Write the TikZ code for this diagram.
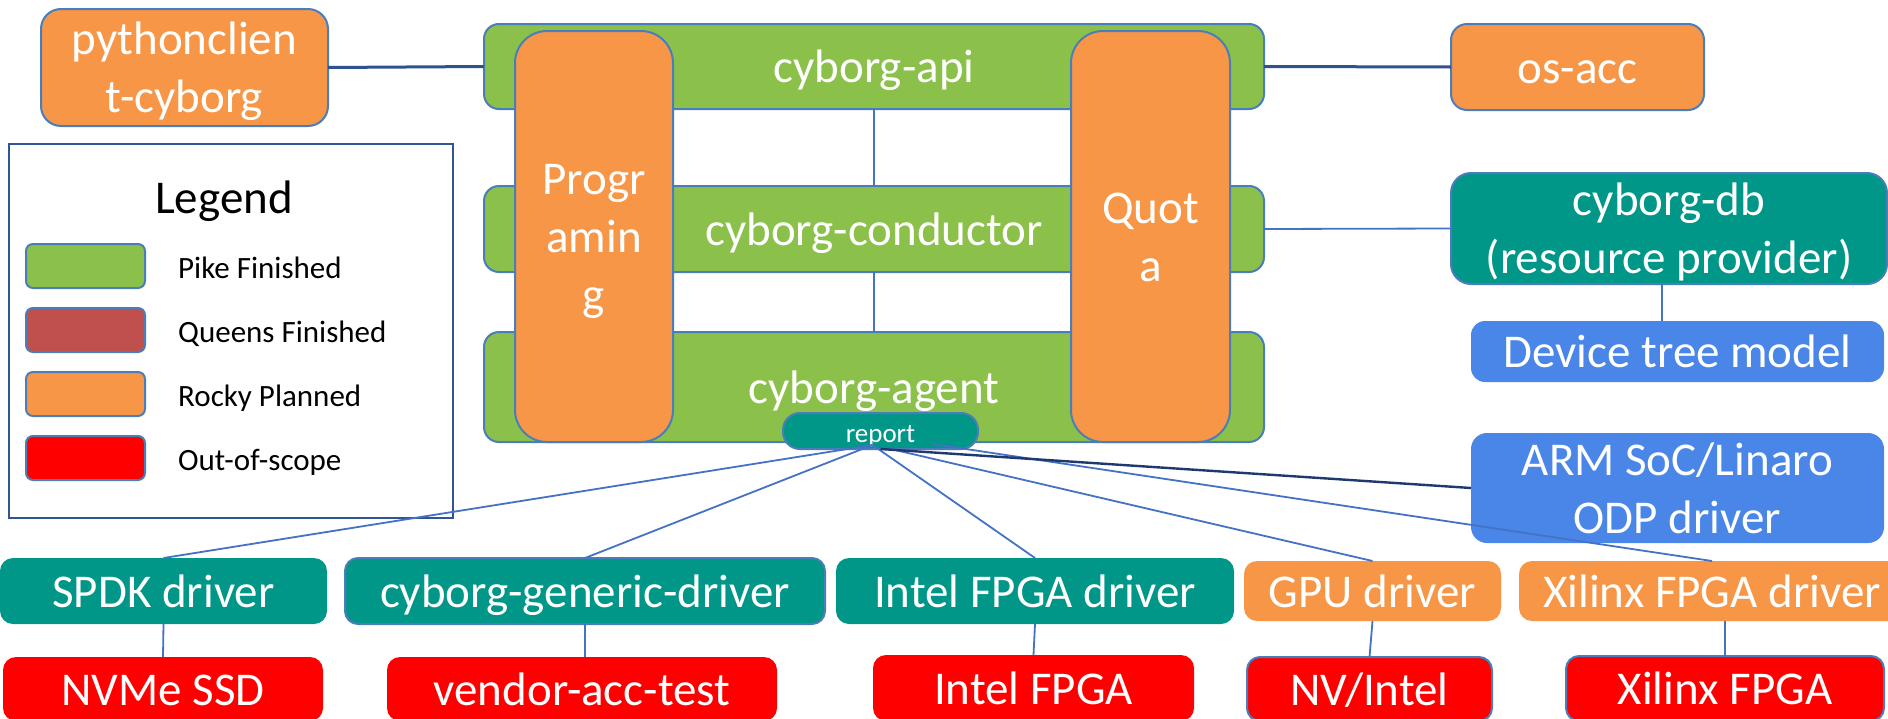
\documentclass[tikz,border=0pt]{standalone}
\usepackage{fontspec}
\setmainfont{Carlito}
\definecolor{cgreen}{RGB}{139,193,74}
\definecolor{corange}{RGB}{247,150,70}
\definecolor{cteal}{RGB}{0,150,136}
\definecolor{cblue}{RGB}{74,134,232}
\definecolor{cred}{RGB}{255,0,0}
\definecolor{cqueen}{RGB}{192,80,77}
\definecolor{cbord}{RGB}{74,126,187}
\definecolor{clink}{RGB}{68,114,196}
\definecolor{cdark}{RGB}{47,82,143}
\definecolor{cnavy}{RGB}{31,56,110}
\definecolor{clegend}{RGB}{47,85,151}
\newcommand\bigfont{\fontsize{47}{58}\selectfont}
\newcommand\legfont{\fontsize{31}{37}\selectfont}
\newcommand\repfont{\fontsize{27}{32}\selectfont}
\newcommand\hstrut{\rule{0pt}{42pt}}
\newcommand\dstrut{\rule[-10pt]{0pt}{10pt}}
\tikzset{
  bx/.style={anchor=north west, inner sep=0pt, outer sep=0pt, text=white,
    font=\bigfont, align=center, rounded corners=#1},
  bx/.default=14pt,
  tx/.style={text height=42pt, text depth=10pt},
  lined/.style={draw=cbord, line width=2pt},
  link/.style={draw=clink, line width=1.8pt},
  dlink/.style={draw=cdark, line width=3pt},
  nlink/.style={draw=cnavy, line width=2.4pt},
}
\begin{document}
\begin{tikzpicture}[x=1pt,y=-1pt]
\useasboundingbox (0,0) rectangle (1888,718);
\clip (0,0) rectangle (1888,718);
\fill[white] (0,0) rectangle (1888,718);

% legend
\node[draw=clegend, line width=2pt, fill=white, anchor=north west, minimum width=444pt, minimum height=374pt, inner sep=0pt, outer sep=0pt] (legend) at (9,144) {};
\node[anchor=base, font=\bigfont, inner sep=0pt] (legtitle) at (224,213) {Legend};
\node[bx=7pt, lined, fill=cgreen, minimum width=119pt, minimum height=44pt] (sw1) at (26,244) {};
\node[bx=7pt, lined, fill=cqueen, minimum width=119pt, minimum height=44pt] (sw2) at (26,308) {};
\node[bx=7pt, lined, fill=corange, minimum width=119pt, minimum height=44pt] (sw3) at (26,372) {};
\node[bx=7pt, lined, fill=cred, minimum width=119pt, minimum height=44pt] (sw4) at (26,436) {};
\node[anchor=base west, font=\legfont, inner sep=0pt] (lb1) at (178,278) {Pike Finished};
\node[anchor=base west, font=\legfont, inner sep=0pt] (lb2) at (178,342) {Queens Finished};
\node[anchor=base west, font=\legfont, inner sep=0pt] (lb3) at (178,406) {Rocky Planned};
\node[anchor=base west, font=\legfont, inner sep=0pt] (lb4) at (178,470) {Out-of-scope};

% top side boxes
\node[bx=20pt, lined, fill=corange, minimum width=287pt, minimum height=117pt] (py) at (41,9) {\hstrut pythonclien\\t-cyborg\dstrut};
\node[bx=16pt, tx, lined, fill=corange, minimum width=253pt, minimum height=86pt] (osacc) at (1451,24) {os-acc};

% green bars
\node[bx=15pt, tx, lined, fill=cgreen, minimum width=780pt, minimum height=85pt] (api) at (484,24) {cyborg-api};
\node[bx=15pt, tx, lined, fill=cgreen, minimum width=780pt, minimum height=86pt] (cond) at (484,186) {cyborg-conductor};
\node[bx=15pt, tx, lined, fill=cgreen, minimum width=780pt, minimum height=110pt] (agent) at (484,332) {cyborg-agent};

% orange columns
\node[bx=32pt, lined, fill=corange, minimum width=158pt, minimum height=411pt] (prog) at (515,31) {\hstrut Progr\\amin\\g\dstrut};
\node[bx=32pt, lined, fill=corange, minimum width=159pt, minimum height=411pt] (quota) at (1071,31) {\hstrut Quot\\a\dstrut};

% report
\node[bx=17pt, lined, fill=cteal, font=\repfont, text height=24pt, text depth=2pt, minimum width=195pt, minimum height=36pt] (report) at (783,413) {report};

% right side
\node[bx=20pt, lined, fill=cteal, minimum width=436pt, minimum height=111pt] (db) at (1451,173) {\hstrut cyborg-db\\(resource provider)\dstrut};
\node[bx=14pt, tx, fill=cblue, minimum width=413pt, minimum height=61pt] (dev) at (1471,321) {Device tree model};
\node[bx=16pt, fill=cblue, minimum width=413pt, minimum height=99pt] (arm) at (1471,433) {\hstrut ARM SoC/Linaro\\ODP driver\dstrut};

% driver row
\node[bx=13pt, tx, fill=cteal, minimum width=327pt, minimum height=66pt] (spdk) at (0,558) {SPDK driver};
\node[bx=13pt, tx, lined, fill=cteal, minimum width=480pt, minimum height=66pt] (gen) at (345,558) {cyborg-generic-driver};
\node[bx=13pt, tx, fill=cteal, minimum width=398pt, minimum height=66pt] (intel) at (836,558) {Intel FPGA driver};
\node[bx=13pt, tx, fill=corange, minimum width=257pt, minimum height=60pt] (gpu) at (1244,561) {GPU driver};
\node[bx=13pt, tx, fill=corange, minimum width=386pt, minimum height=60pt] (xil) at (1519,561) {Xilinx FPGA driver};

% device row
\node[bx=13pt, tx, fill=cred, minimum width=320pt, minimum height=64pt] (nvme) at (3,657) {NVMe SSD};
\node[bx=13pt, tx, fill=cred, minimum width=390pt, minimum height=64pt] (vendor) at (387,657) {vendor-acc-test};
\node[bx=13pt, tx, fill=cred, minimum width=321pt, minimum height=66pt] (ifpga) at (873,655) {Intel FPGA};
\node[bx=13pt, tx, lined, fill=cred, minimum width=245pt, minimum height=64pt] (nv) at (1247,657) {NV/Intel};
\node[bx=13pt, tx, lined, fill=cred, minimum width=318pt, minimum height=65pt] (xf) at (1566,656) {Xilinx FPGA};

% connectors
\draw[dlink] (py.east) -- (api.west);
\draw[dlink] (api.east) -- (osacc.west);
\draw[link] (api.south) -- (cond.north);
\draw[link] (cond.south) -- (agent.north);
\draw[link] (cond.east) -- (db.west);
\coordinate (dbl) at ([xshift=-7pt]db.south);
\draw[link] (dbl) -- (dbl |- dev.north);

\coordinate (hub) at ([xshift=-8pt,yshift=4pt]report.south);
\coordinate (hubg) at ([xshift=6pt,yshift=1pt]report.south);
\coordinate (hubr) at ([xshift=52pt,yshift=5pt]report.south);
\draw[link] (hub) -- (spdk.north);
\draw[link] (hub) -- (gen.north);
\draw[link] (hub) -- (intel.north);
\draw[link] (hubg) -- (gpu.north);
\draw[link] (hubr) -- (xil.north);
\draw[nlink] (report.south) -- (arm.west);

\draw[link] (spdk.south) -- (nvme.north);
\draw[link] (gen.south) -- (gen.south |- vendor.north);
\draw[link] (intel.south) -- (ifpga.north);
\draw[link] (gpu.south) -- (nv.north);
\draw[link] (xf.north |- xil.south) -- (xf.north);
\end{tikzpicture}
\end{document}
